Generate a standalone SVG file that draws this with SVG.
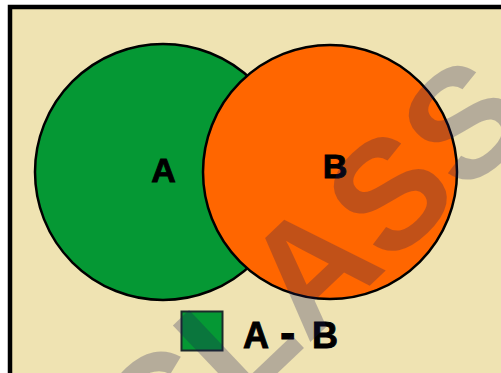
<svg xmlns="http://www.w3.org/2000/svg" width="501" height="373" viewBox="0 0 501 373">
<style>
.lbl{font-family:"Liberation Sans",Arial,sans-serif;font-weight:bold;fill:#000;stroke:#000;stroke-width:0.9}
.circ{stroke:#000;stroke-width:2.5}
.wm{font-family:"Liberation Sans",Arial,sans-serif;font-weight:bold;font-size:155px;fill:#1a1a5a;fill-opacity:0.27}
</style>
<rect x="0" y="0" width="501" height="373" fill="#fff"/>
<rect x="10" y="7" width="600" height="500" fill="#EFE3B2" stroke="#000" stroke-width="4.5"/>
<g id="setA">
<circle class="circ" cx="163" cy="172" r="128" fill="#059834"/>
<text class="lbl" x="163.5" y="182" font-size="34" text-anchor="middle">A</text>
</g>
<g id="setB">
<circle class="circ" cx="330" cy="172" r="127" fill="#FF6600"/>
<text class="lbl" x="335" y="178" font-size="34" text-anchor="middle">B</text>
</g>
<g id="legend">
<rect x="181.5" y="311.5" width="41" height="39" fill="#059834" stroke="#1c2a2a" stroke-width="2"/>
<text class="lbl" y="348" font-size="36"><tspan x="243">A</tspan><tspan x="280" font-size="46">-</tspan><tspan x="312">B</tspan></text>
</g>
<g id="connectors"></g>
<text class="wm" x="-206.6" y="0" transform="translate(307.5 344.8) rotate(-43.5)">CLASS</text>
</svg>
